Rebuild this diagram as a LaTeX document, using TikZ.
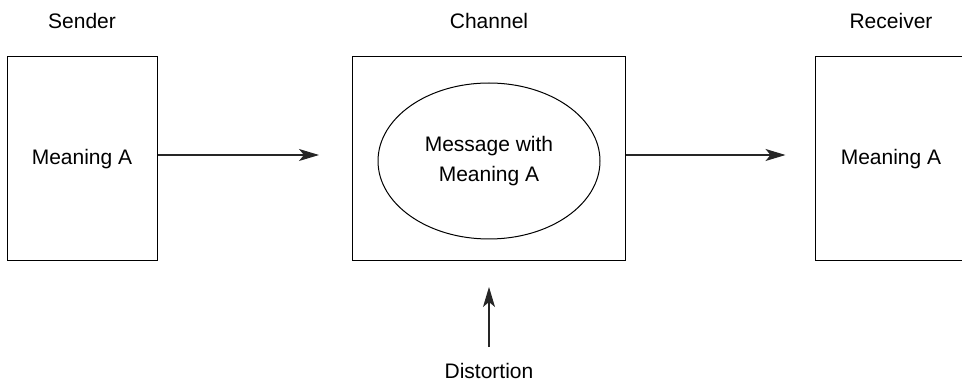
\documentclass[tikz,border=0pt]{standalone}
\usepackage{fontspec}
\setmainfont{Liberation Sans}
\usetikzlibrary{arrows.meta,shapes.geometric}

\begin{document}
\begin{tikzpicture}[x=1pt,y=-1pt,
  txt/.style={font=\fontsize{21}{30}\selectfont, align=center},
  box/.style={draw, line width=1pt, minimum height=204pt, inner sep=0pt, txt},
  msg/.style={draw, ellipse, line width=1pt, minimum width=222pt, minimum height=156pt, inner sep=0pt, txt},
  flow/.style={-{Stealth[length=20pt,width=12pt,inset=5pt]}, line width=1.1pt, black!85}]
\useasboundingbox (0,0) rectangle (962,382);
\clip (0,0) rectangle (962,382);

% the three stages
\node[box, minimum width=150pt] (sender)   at (82,159)  {Meaning A};
\node[box, minimum width=273pt] (channel)  at (489,159) {};
\node[box, minimum width=152pt] (receiver) at (891,159) {Meaning A};
\node[msg] (message) at (489,161) {Message with\\Meaning A};

% headings
\node[txt] (hsender)   at (82,21)  {Sender};
\node[txt] (hchannel)  at (489,21) {Channel};
\node[txt] (hreceiver) at (891,21) {Receiver};

% noise source
\node[txt] (distortion) at (489,371) {Distortion};
\coordinate (dtail) at (489,347);
\coordinate (dhead) at (489,287);

% connectors
\draw[flow] ([yshift=4pt]sender.east) -- ([xshift=-33pt,yshift=4pt]channel.west);
\draw[flow] ([yshift=4pt]channel.east) -- ([xshift=-29pt,yshift=4pt]receiver.west);
\draw[flow] (dtail) -- (dhead);
\end{tikzpicture}
\end{document}
